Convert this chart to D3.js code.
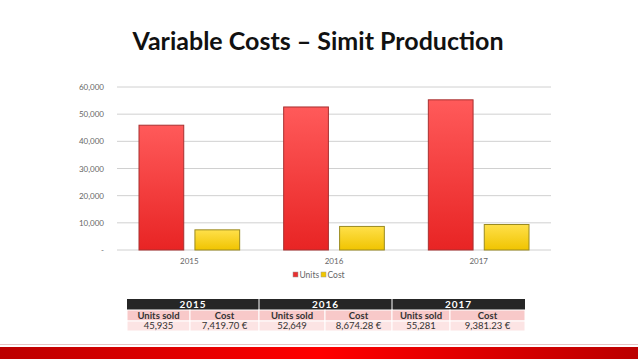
<!DOCTYPE html>
<html>
<head>
<meta charset="utf-8">
<script src="https://cdn.jsdelivr.net/npm/d3@7"></script>
<style>
  body { margin: 0; background: #fff; }
  svg { display: block; font-family: Lato, "Open Sans", sans-serif; }
</style>
</head>
<body>
<div id="plot"></div>
<script>
// chart data
const years = ["2015", "2016", "2017"];
const seriesNames = ["Units", "Cost"];
const unitsSold = [45935, 52649, 55281];
const costs = [7419.70, 8674.28, 9381.23];
const yTicks = [0, 10000, 20000, 30000, 40000, 50000, 60000];

// table text
const unitsText = ["45,935", "52,649", "55,281"];
const costText = ["7,419.70 €", "8,674.28 €", "9,381.23 €"];
const subHeads = ["Units sold", "Cost"];

const W = 638, H = 359;
const svg = d3.select("#plot").append("svg")
  .attr("width", W).attr("height", H);

const defs = svg.append("defs");
const redGrad = defs.append("linearGradient").attr("id", "redGrad")
  .attr("x1", 0).attr("y1", 0).attr("x2", 0).attr("y2", 1);
redGrad.append("stop").attr("offset", "0%").attr("stop-color", "#ff5a5a");
redGrad.append("stop").attr("offset", "100%").attr("stop-color", "#e82424");
const yelGrad = defs.append("linearGradient").attr("id", "yelGrad")
  .attr("x1", 0).attr("y1", 0).attr("x2", 0).attr("y2", 1);
yelGrad.append("stop").attr("offset", "0%").attr("stop-color", "#ffe04a");
yelGrad.append("stop").attr("offset", "100%").attr("stop-color", "#f0c400");
const barGrad = defs.append("linearGradient").attr("id", "barGrad")
  .attr("x1", 0).attr("y1", 0).attr("x2", 1).attr("y2", 0);
barGrad.append("stop").attr("offset", "0%").attr("stop-color", "#bb0000");
barGrad.append("stop").attr("offset", "50%").attr("stop-color", "#ff0000");
barGrad.append("stop").attr("offset", "100%").attr("stop-color", "#bb0000");

// title
svg.append("text")
  .attr("x", 318).attr("y", 50)
  .attr("text-anchor", "middle")
  .style("font-size", "25px").style("font-weight", "bold")
  .style("fill", "#111")
  .text("Variable Costs – Simit Production");

// plot area
const plot = { left: 117, right: 551, top: 87, bottom: 250 };
const x0 = d3.scaleBand().domain(years).range([plot.left, plot.right]).paddingInner(0).paddingOuter(0);
const x1 = d3.scaleBand().domain(seriesNames).range([22, x0.bandwidth() - 22]).paddingInner(0.2);
const y = d3.scaleLinear().domain([0, 60000]).range([plot.bottom, plot.top]);

// gridlines
svg.append("g").selectAll("line").data(yTicks).join("line")
  .attr("x1", plot.left).attr("x2", plot.right)
  .attr("y1", d => y(d)).attr("y2", d => y(d))
  .attr("stroke", "#d0d0d0").attr("stroke-width", 1);

// y axis labels
const yAxis = d3.axisLeft(y).tickValues(yTicks)
  .tickSize(0).tickPadding(13)
  .tickFormat(d => d === 0 ? "-" : d3.format(",")(d));
svg.append("g").attr("transform", `translate(${plot.left},0)`)
  .call(yAxis)
  .call(g => g.select(".domain").remove())
  .call(g => g.selectAll("text").style("font-size", "8px").style("fill", "#666").style("font-family", "Lato, sans-serif"));

// bars
const groups = svg.append("g").selectAll("g").data(years).join("g")
  .attr("transform", d => `translate(${x0(d)},0)`);
groups.append("rect")
  .attr("x", x1("Units")).attr("width", x1.bandwidth())
  .attr("y", (d, i) => y(unitsSold[i]))
  .attr("height", (d, i) => y(0) - y(unitsSold[i]))
  .attr("fill", "url(#redGrad)").attr("stroke", "#a83030").attr("stroke-width", 1);
groups.append("rect")
  .attr("x", x1("Cost")).attr("width", x1.bandwidth())
  .attr("y", (d, i) => y(costs[i]))
  .attr("height", (d, i) => y(0) - y(costs[i]))
  .attr("fill", "url(#yelGrad)").attr("stroke", "#9a8a20").attr("stroke-width", 1);

// x axis labels
svg.append("g").attr("transform", `translate(0,${plot.bottom})`)
  .call(d3.axisBottom(x0).tickSize(0).tickPadding(8))
  .call(g => g.select(".domain").remove())
  .call(g => g.selectAll("text").style("font-size", "8px").style("fill", "#666").style("font-family", "Lato, sans-serif"));

// legend
const legendItems = [
  { name: "Units", color: "#e83030", x: 293 },
  { name: "Cost", color: "#f2c800", x: 321 }
];
const legend = svg.append("g").selectAll("g").data(legendItems).join("g")
  .attr("transform", d => `translate(${d.x},275)`);
legend.append("rect").attr("x", 0).attr("y", -3).attr("width", 5).attr("height", 5)
  .attr("fill", d => d.color).attr("stroke", "#999").attr("stroke-width", 0.5);
legend.append("text").attr("x", 6.5).attr("y", 2.5)
  .style("font-size", "8.5px").style("fill", "#666").text(d => d.name);

// table
const tbl = { left: 127, right: 525 };
const colX = [127, 190, 259, 325, 392, 450, 525];
const rowY = [299, 310, 321, 331];

// header row
svg.append("rect").attr("x", tbl.left).attr("y", rowY[0])
  .attr("width", tbl.right - tbl.left).attr("height", rowY[1] - rowY[0])
  .attr("fill", "#262626");
years.forEach((yr, i) => {
  svg.append("text")
    .attr("x", (colX[i * 2] + colX[i * 2 + 2]) / 2).attr("y", rowY[1] - 2)
    .attr("text-anchor", "middle")
    .style("font-size", "10px").style("font-weight", "bold").style("fill", "#fff")
    .style("letter-spacing", "1px")
    .text(yr);
  if (i > 0) {
    svg.append("line").attr("x1", colX[i * 2]).attr("x2", colX[i * 2])
      .attr("y1", rowY[0]).attr("y2", rowY[1]).attr("stroke", "#fff").attr("stroke-width", 1);
  }
});

// sub-header and value rows
const rowFills = ["#f8c9c9", "#fce4e4"];
for (let c = 0; c < 6; c++) {
  const yi = Math.floor(c / 2);
  [subHeads[c % 2], c % 2 === 0 ? unitsText[yi] : costText[yi]].forEach((txt, r) => {
    svg.append("rect")
      .attr("x", colX[c]).attr("y", rowY[r + 1])
      .attr("width", colX[c + 1] - colX[c]).attr("height", rowY[r + 2] - rowY[r + 1])
      .attr("fill", rowFills[r]).attr("stroke", "#fff").attr("stroke-width", 1);
    svg.append("text")
      .attr("x", (colX[c] + colX[c + 1]) / 2).attr("y", rowY[r + 2] - 2)
      .attr("text-anchor", "middle")
      .style("font-size", "9.5px").style("font-weight", r === 0 ? "bold" : "normal")
      .style("fill", "#333")
      .text(txt);
  });
}

// bottom band
svg.append("line").attr("x1", 0).attr("x2", W).attr("y1", 344.5).attr("y2", 344.5)
  .attr("stroke", "#e8c4c4").attr("stroke-width", 1);
svg.append("rect").attr("x", 0).attr("y", 347).attr("width", W).attr("height", 12)
  .attr("fill", "url(#barGrad)");
</script>
</body>
</html>
